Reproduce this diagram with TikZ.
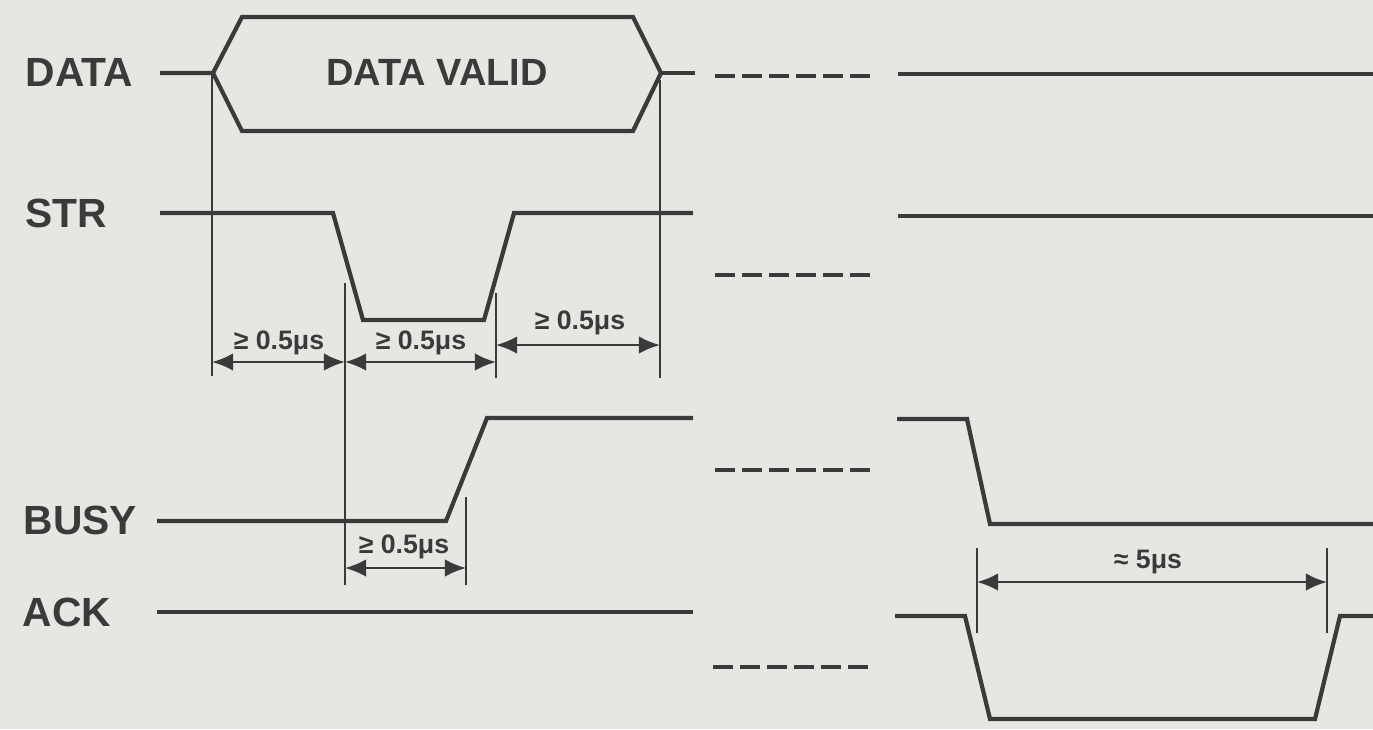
\documentclass[tikz,border=0pt]{standalone}
\usepackage{fontspec}
\setmainfont{Liberation Sans}
\usetikzlibrary{arrows.meta}
\definecolor{paper}{RGB}{230,230,227}
\definecolor{ink}{RGB}{58,58,58}
\begin{document}
\begin{tikzpicture}[x=1cm, y=-1cm, >={Latex[length=6pt,width=5pt]},
  sig/.style={draw=ink, line width=1.2pt, line join=miter},
  gap/.style={draw=ink, line width=1.2pt, dash pattern=on .2cm off .07cm},
  ext/.style={draw=ink, line width=.45pt},
  dim/.style={draw=ink, line width=.7pt, <->},
  signame/.style={text=ink, anchor=west, font=\fontsize{11.6}{13}\selectfont\bfseries, inner sep=0pt},
  tlabel/.style={text=ink, font=\fontsize{7.6}{9}\selectfont\bfseries, inner sep=0pt}]
\fill[paper] (0,0) rectangle (13.73,7.29);
\useasboundingbox (0,0) rectangle (13.73,7.29);
% signal names
\node[signame] (data) at (.25,.72) {DATA};
\node[signame] (str) at (.25,2.13) {STR};
\node[signame] (busy) at (.23,5.20) {BUSY};
\node[signame] (ack) at (.22,6.12) {ACK};
% DATA
\draw[sig] (1.60,.73)--(2.13,.73)--(2.42,.17)--(6.33,.17)--(6.61,.73)--(6.33,1.31)--(2.42,1.31)--(2.13,.73);
\draw[sig] (6.61,.73)--(6.95,.73);
\node[signame, anchor=center, font=\fontsize{10.8}{12}\selectfont\bfseries] (valid) at (4.37,.72) {DATA VALID};
\draw[gap] (7.15,.76)--(8.70,.76);
\draw[sig] (8.98,.74)--(13.73,.74);
% STR
\draw[sig] (1.60,2.13)--(3.33,2.13)--(3.63,3.20)--(4.84,3.20)--(5.14,2.13)--(6.93,2.13);
\draw[gap] (7.15,2.75)--(8.70,2.75);
\draw[sig] (8.98,2.16)--(13.73,2.16);
% BUSY
\draw[sig] (1.57,5.21)--(4.46,5.21)--(4.87,4.18)--(6.93,4.18);
\draw[gap] (7.15,4.70)--(8.70,4.70);
\draw[sig] (8.97,4.19)--(9.67,4.19)--(9.90,5.24)--(13.73,5.24);
% ACK
\draw[sig] (1.57,6.12)--(6.93,6.12);
\draw[gap] (7.13,6.67)--(8.68,6.67);
\draw[sig] (8.95,6.16)--(9.65,6.16)--(9.90,7.19)--(13.15,7.19)--(13.40,6.16)--(13.73,6.16);
% extension lines
\draw[ext] (2.12,.73)--(2.12,3.76);
\draw[ext] (6.60,.80)--(6.60,3.78);
\draw[ext] (3.45,2.83)--(3.45,5.85);
\draw[ext] (4.96,2.93)--(4.96,3.78);
\draw[ext] (4.66,4.97)--(4.66,5.85);
\draw[ext] (9.77,5.48)--(9.77,6.33);
\draw[ext] (13.27,5.48)--(13.27,6.33);
% timings
\draw[dim] (2.12,3.62)--(3.45,3.62);
\node[tlabel] (t1) at (2.79,3.43) {≥ 0.5μs};
\draw[dim] (3.45,3.62)--(4.96,3.62);
\node[tlabel] (t2) at (4.21,3.43) {≥ 0.5μs};
\draw[dim] (4.96,3.45)--(6.60,3.45);
\node[tlabel] (t3) at (5.80,3.23) {≥ 0.5μs};
\draw[dim] (3.45,5.68)--(4.66,5.68);
\node[tlabel] (t4) at (4.04,5.47) {≥ 0.5μs};
\draw[dim] (9.77,5.82)--(13.27,5.82);
\node[tlabel] (t5) at (11.48,5.62) {≈ 5μs};
\end{tikzpicture}
\end{document}
